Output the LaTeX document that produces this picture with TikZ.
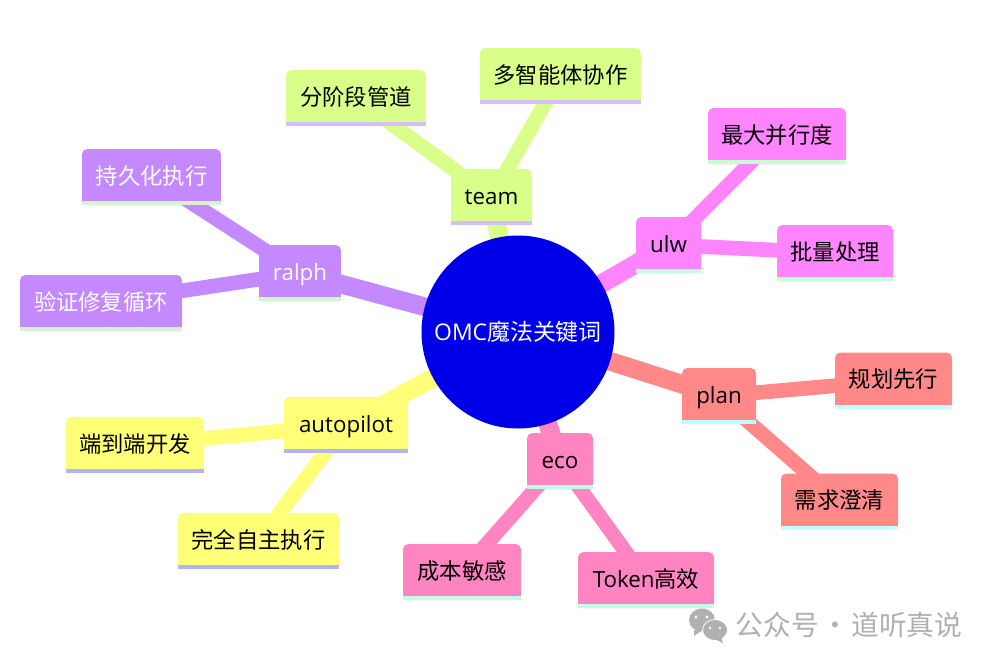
\documentclass[tikz,border=0pt]{standalone}
\usepackage{fontspec}
\setmainfont{Noto Sans CJK SC}
\newfontfamily\latfont{Open Sans}
\newcommand{\lat}[1]{{\latfont #1}}
\usepackage{xcolor}
\usepackage{tikz}
\usetikzlibrary{backgrounds}
\definecolor{rootblue}{HTML}{0000E8}
\definecolor{teamfill}{HTML}{D9FF8A}
\definecolor{teamline}{HTML}{D5BDFF}
\definecolor{ulwfill}{HTML}{FF85FF}
\definecolor{ulwline}{HTML}{C8FFD0}
\definecolor{planfill}{HTML}{FF8888}
\definecolor{planline}{HTML}{BFFFFF}
\definecolor{ecofill}{HTML}{FF85C2}
\definecolor{ecoline}{HTML}{BFFFE6}
\definecolor{autofill}{HTML}{FFFF78}
\definecolor{autoline}{HTML}{B3B3F5}
\definecolor{ralphfill}{HTML}{C488FF}
\definecolor{ralphline}{HTML}{D5F5D0}
\definecolor{markgray}{HTML}{B0B0B0}
\tikzset{
	mapbox/.style={rounded corners=4pt, inner sep=0pt, font=\fontsize{16.75pt}{20pt}\selectfont, minimum height=42pt, text height=14.8pt, text depth=4pt},
	branch/.style={line width=14pt},
	twig/.style={line width=11pt},
	markbubble/.style={fill=markgray, draw=white, line width=0.6pt},
	marktext/.style={text=markgray, font=\fontsize{20.8pt}{24pt}\selectfont, inner sep=0pt}
}

\begin{document}
\begin{tikzpicture}[x=0.75pt,y=-0.75pt]
	\useasboundingbox (0,0) rectangle (993,665);
	
	\node[circle, fill=rootblue, minimum size=144.75pt, inner sep=0pt, text=white, font=\fontsize{17.2pt}{20pt}\selectfont] (root) at (518,332) {\lat{OMC}魔法关键词};
	
	% boxes: name/centre x/centre y/width/fill/stripe/text colour/label
	\foreach \n/\x/\y/\w/\f/\s/\t/\l in
	{team/491.5/197/81/teamfill/teamline/black/\lat{team},
		stage/356/98/140/teamfill/teamline/black/分阶段管道,
		agents/560.5/76/161/teamfill/teamline/black/多智能体协作,
		ulw/668.5/245/65/ulwfill/ulwline/black/\lat{ulw},
		maxpar/777/136/138/ulwfill/ulwline/black/最大并行度,
		batch/835/253/116/ulwfill/ulwline/black/批量处理,
		plan/719/396/74/planfill/planline/black/\lat{plan},
		first/893.5/380.5/117/planfill/planline/black/规划先行,
		clarify/839.5/501.5/117/planfill/planline/black/需求澄清,
		eco/560/461/66/ecofill/ecoline/black/\lat{eco},
		cost/462/572/118/ecofill/ecoline/black/成本敏感,
		token/646/580/136/ecofill/ecoline/black/\lat{Token}高效,
		auto/346/425/124/autofill/autoline/black/\lat{autopilot},
		endend/135/445/138/autofill/autoline/black/端到端开发,
		selfrun/258.5/541/161/autofill/autoline/black/完全自主执行,
		ralph/300/273/82/ralphfill/ralphline/white/\lat{ralph},
		persist/151.5/177/139/ralphfill/ralphline/white/持久化执行,
		verify/101/303/162/ralphfill/ralphline/white/验证修复循环}{
		\node[mapbox, fill=\f, text=\t, minimum width=\w*0.75pt] (\n) at (\x,\y) {\l};
		\fill[\f] ([yshift=8pt]\n.south west) rectangle (\n.south east);
		\fill[\s] ([yshift=3pt]\n.south west) rectangle (\n.south east);
	}
	
	\begin{pgfonlayer}{background}
		\fill[white] (0,0) rectangle (993,665);
		\foreach \a/\b/\c in
		{root/team/teamfill, root/ulw/ulwfill, root/plan/planfill,
			root/eco/ecofill, root/auto/autofill, root/ralph/ralphfill}{
			\draw[branch, \c] (\a.center) -- (\b.center);
		}
		\foreach \a/\b/\c in
		{team/stage/teamfill, team/agents/teamfill,
			ulw/maxpar/ulwfill, ulw/batch/ulwfill,
			plan/first/planfill, plan/clarify/planfill,
			eco/cost/ecofill, eco/token/ecofill,
			auto/endend/autofill, auto/selfrun/autofill,
			ralph/persist/ralphfill, ralph/verify/ralphfill}{
			\draw[twig, \c] (\a.center) -- (\b.center);
		}
	\end{pgfonlayer}
	
	% watermark
	\fill[markgray] (702,620) ellipse (13 and 11.5);
	\fill[markgray] (694,630) -- (694,636) -- (701,631) -- cycle;
	\fill[white] (696,617) circle (1.6);
	\fill[white] (707,617) circle (1.6);
	\draw[markbubble] (715,630) ellipse (12.5 and 10.5);
	\fill[markgray] (721,637) -- (723,643) -- (715,639) -- cycle;
	\fill[white] (710,628) circle (1.4);
	\fill[white] (720,628) circle (1.4);
	\node[marktext, anchor=west] (mark) at (735.5,625) {公众号\hspace{1.8pt}·\hspace{1.8pt}道听真说};
\end{tikzpicture}
\end{document}
